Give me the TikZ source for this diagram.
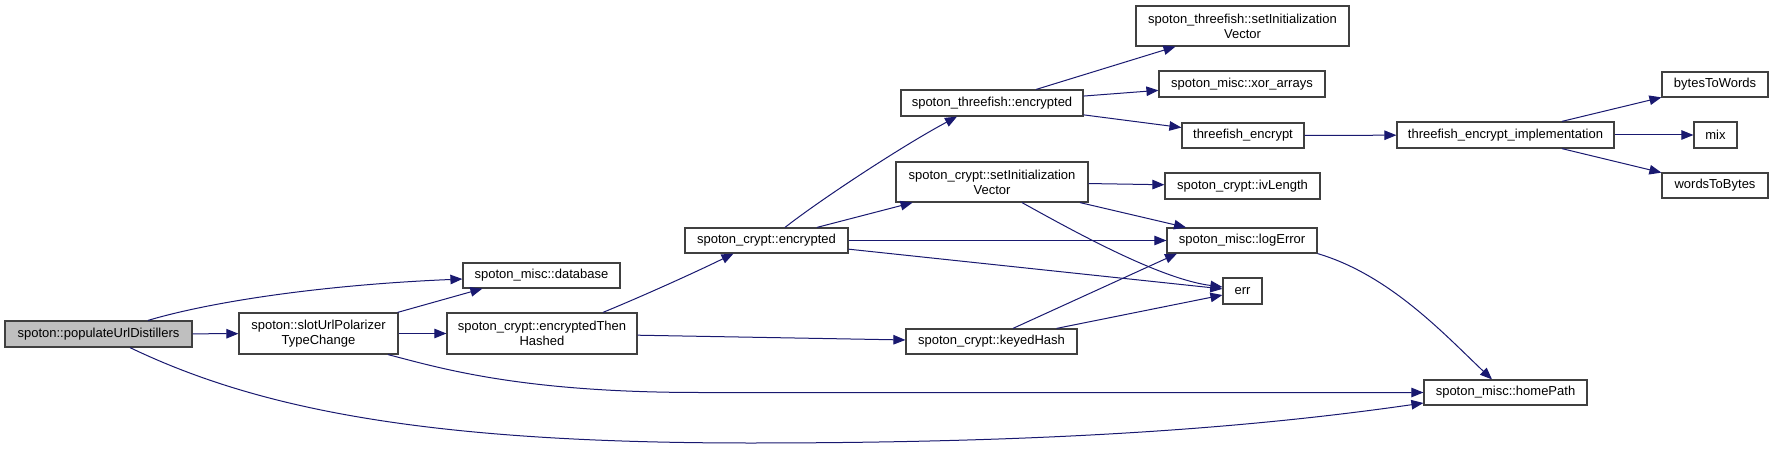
\documentclass[tikz,border=0pt]{standalone}
\usepackage{fontspec}
\setmainfont{Liberation Sans}
\usetikzlibrary{arrows.meta,calc}
\definecolor{edgeblue}{RGB}{25,25,112}
\definecolor{popfill}{RGB}{191,191,191}
\definecolor{boxline}{RGB}{64,64,64}
\begin{document}
\begin{tikzpicture}[x=1pt,y=-1pt,
  fn/.style={draw=boxline, line width=1.2pt, fill=white, inner sep=0pt,
    font=\fontsize{13}{15}\selectfont, align=center},
  call/.style={draw=edgeblue, line width=1pt, -{Triangle[length=12pt,width=9.5pt]}}]
\fill[white] (0,0) rectangle (1775,449);
\useasboundingbox (0,0) rectangle (1775,449);

\node[fn, fill=popfill, minimum width=187pt, minimum height=26pt] (pop) at (98.5,334) {spoton::populateUrlDistillers};
\node[fn, minimum width=159pt, minimum height=41pt] (slot) at (318.5,333.5) {spoton::slotUrlPolarizer\\TypeChange};
\node[fn, minimum width=157pt, minimum height=25pt] (db) at (541.5,275.5) {spoton\_misc::database};
\node[fn, minimum width=190pt, minimum height=41pt] (eth) at (542,333.5) {spoton\_crypt::encryptedThen\\Hashed};
\node[fn, minimum width=163pt, minimum height=25pt] (cenc) at (766.5,240.5) {spoton\_crypt::encrypted};
\node[fn, minimum width=182pt, minimum height=26pt] (tenc) at (992,103) {spoton\_threefish::encrypted};
\node[fn, minimum width=192pt, minimum height=40pt] (csiv) at (992,182) {spoton\_crypt::setInitialization\\Vector};
\node[fn, minimum width=171pt, minimum height=25pt] (kh) at (991.5,341.5) {spoton\_crypt::keyedHash};
\node[fn, minimum width=213pt, minimum height=40pt] (tsiv) at (1242.5,26) {spoton\_threefish::setInitialization\\Vector};
\node[fn, minimum width=166pt, minimum height=26pt] (xor) at (1242,84) {spoton\_misc::xor\_arrays};
\node[fn, minimum width=122pt, minimum height=25pt] (tfe) at (1243,135.5) {threefish\_encrypt};
\node[fn, minimum width=155pt, minimum height=26pt] (ivl) at (1242.5,186) {spoton\_crypt::ivLength};
\node[fn, minimum width=150pt, minimum height=25pt] (log) at (1242,240.5) {spoton\_misc::logError};
\node[fn, minimum width=39pt, minimum height=26pt] (err) at (1242.5,291) {err};
\node[fn, minimum width=217pt, minimum height=26pt] (impl) at (1505.5,135) {threefish\_encrypt\_implementation};
\node[fn, minimum width=163pt, minimum height=25pt] (home) at (1505.5,392.5) {spoton\_misc::homePath};
\node[fn, minimum width=106pt, minimum height=25pt] (b2w) at (1715,84.5) {bytesToWords};
\node[fn, minimum width=43pt, minimum height=26pt] (mix) at (1715.5,135) {mix};
\node[fn, minimum width=106pt, minimum height=25pt] (w2b) at (1715,185.5) {wordsToBytes};

% edges
\draw[call] (pop) -- (slot);
\draw[call] ($(pop.north)+(49.5,0)$) .. controls (210,302) and (320,285) .. ($(db.west)+(0,3.5)$);
\draw[call] ($(pop.south)+(31.5,0)$) .. controls (260,410) and (430,443) .. (750,443)
   .. controls (1050,443) and (1250,428) .. ($(home.west)+(0,10.5)$);
\draw[call] ($(slot.north east)+(-1,0)$) -- ($(db.south west)+(20,0)$);
\draw[call] (slot) -- (eth);
\draw[call] ($(slot.south)+(69.5,0)$) .. controls (440,368) and (520,392.5) .. (700,392.5) -- (home.west);
\draw[call] ($(eth.north)+(61,0)$) .. controls (650,293) and (700,270) .. ($(cenc.south)+(-33,0)$);
\draw[call] (eth) -- (kh);
\draw[call] ($(cenc.north)+(18.5,0)$) .. controls (820,200) and (902,146) .. ($(tenc.south)+(-35,0)$);
\draw[call] (cenc) -- (csiv);
\draw[call] (cenc) -- (log);
\draw[call] (cenc) -- (err);
\draw[call] (tenc) -- (tsiv);
\draw[call] (tenc) -- (xor);
\draw[call] (tenc) -- (tfe);
\draw[call] (tfe) -- (impl);
\draw[call] (impl) -- (b2w);
\draw[call] (impl) -- (mix);
\draw[call] (impl) -- (w2b);
\draw[call] (csiv) -- (ivl);
\draw[call] (csiv) -- (log);
\draw[call] ($(csiv.south)+(30,0)$) .. controls (1075,232) and (1160,279) .. ($(err.west)+(0,-4)$);
\draw[call] ($(kh.north)+(21.5,0)$) -- ($(log.south)+(-65,0)$);
\draw[call] (kh) -- (err);
\draw[call] (log.south east) .. controls (1390,275) and (1445,335) .. ($(home.north)+(-13.5,0)$);
\end{tikzpicture}
\end{document}
